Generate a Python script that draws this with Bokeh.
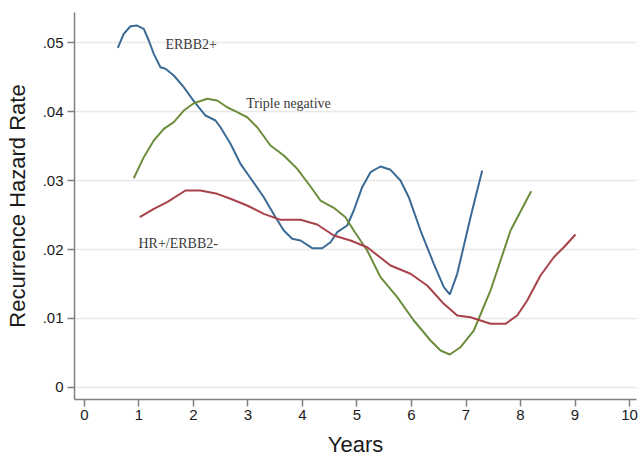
from bokeh.plotting import figure
from bokeh.models import Range1d, FixedTicker, CustomJSTickFormatter, Label
from bokeh.embed import file_html
from bokeh.resources import INLINE

# ERBB2+ (blue)
erbb2_x = [0.611, 0.721, 0.844, 0.967, 1.088, 1.180, 1.272, 1.394, 1.486, 1.639, 1.822, 2.006,
           2.220, 2.404, 2.495, 2.679, 2.862, 3.077, 3.290, 3.505, 3.657, 3.811, 3.963, 4.178,
           4.362, 4.514, 4.637, 4.820, 4.941, 5.095, 5.248, 5.431, 5.615, 5.798, 5.950, 6.165,
           6.409, 6.593, 6.703, 6.839, 7.083, 7.297]
erbb2_y = [0.04923, 0.05126, 0.05236, 0.05246, 0.05199, 0.05029, 0.04836, 0.04642, 0.04619,
           0.04522, 0.04352, 0.04150, 0.03942, 0.03870, 0.03772, 0.03532, 0.03242, 0.03000,
           0.02758, 0.02468, 0.02275, 0.02155, 0.02130, 0.02019, 0.02019, 0.02106, 0.02251,
           0.02348, 0.02565, 0.02903, 0.03120, 0.03203, 0.03155, 0.03000, 0.02758, 0.02275,
           0.01793, 0.01454, 0.01348, 0.01648, 0.02468, 0.03145]

# Triple negative (green)
tn_x = [0.905, 1.088, 1.272, 1.455, 1.639, 1.822, 2.006, 2.251, 2.435, 2.618, 2.802, 2.985,
        3.169, 3.413, 3.657, 3.903, 4.147, 4.330, 4.574, 4.789, 4.941, 5.187, 5.431, 5.738,
        6.042, 6.349, 6.532, 6.703, 6.899, 7.143, 7.450, 7.817, 8.196]
tn_y = [0.03033, 0.03338, 0.03580, 0.03749, 0.03845, 0.04014, 0.04120, 0.04184, 0.04159,
        0.04062, 0.03990, 0.03917, 0.03772, 0.03507, 0.03362, 0.03170, 0.02913, 0.02710,
        0.02604, 0.02468, 0.02275, 0.01986, 0.01599, 0.01309, 0.00971, 0.00681, 0.00536,
        0.00478, 0.00584, 0.00826, 0.01406, 0.02275, 0.02845]

# HR+/ERBB2- (red)
hr_x = [1.015, 1.272, 1.517, 1.853, 2.128, 2.435, 2.679, 2.985, 3.290, 3.596, 3.963, 4.270,
        4.574, 4.881, 5.187, 5.615, 5.982, 6.288, 6.593, 6.839, 7.083, 7.450, 7.725, 7.939,
        8.123, 8.367, 8.611, 8.795, 9.009]
hr_y = [0.02468, 0.02590, 0.02686, 0.02855, 0.02855, 0.02807, 0.02735, 0.02638, 0.02517,
        0.02430, 0.02430, 0.02362, 0.02203, 0.02130, 0.02033, 0.01768, 0.01648, 0.01478,
        0.01213, 0.01043, 0.01019, 0.00923, 0.00923, 0.01043, 0.01261, 0.01623, 0.01888,
        0.02033, 0.02217]

x_ticks = [0, 1, 2, 3, 4, 5, 6, 7, 8, 9, 10]
y_ticks = [0, 0.01, 0.02, 0.03, 0.04, 0.05]
y_tick_labels = ["0", ".01", ".02", ".03", ".04", ".05"]

series_names = ["ERBB2+", "Triple negative", "HR+/ERBB2-"]

p = figure(width=639, height=461, output_backend="svg", toolbar_location=None,
           x_range=Range1d(-0.183, 10.128), y_range=Range1d(-0.00174, 0.05435),
           min_border_left=74, min_border_right=3, min_border_top=12, min_border_bottom=62)
p.outline_line_color = None
p.background_fill_color = "white"
p.border_fill_color = "white"

p.line(erbb2_x, erbb2_y, line_width=2, line_color="#3b6a95")
p.line(tn_x, tn_y, line_width=2, line_color="#6c8d3c")
p.line(hr_x, hr_y, line_width=2, line_color="#a8414a")

label_font = "Liberation Serif"
p.add_layout(Label(x=1.486, y=0.04967, text=series_names[0], text_font=label_font,
                   text_font_size="14px", text_color="#3a3a3a", text_baseline="alphabetic"))
p.add_layout(Label(x=2.967, y=0.0412, text=series_names[1], text_font=label_font,
                   text_font_size="14px", text_color="#3a3a3a", text_baseline="alphabetic"))
p.add_layout(Label(x=0.991, y=0.02091, text=series_names[2], text_font=label_font,
                   text_font_size="14px", text_color="#3a3a3a", text_baseline="alphabetic"))

p.xgrid.grid_line_color = None
p.ygrid.grid_line_color = "#e8e8e8"
p.ygrid.grid_line_width = 1.5

p.xaxis.ticker = FixedTicker(ticks=x_ticks)
p.yaxis.ticker = FixedTicker(ticks=y_ticks)
p.yaxis.formatter = CustomJSTickFormatter(args=dict(vals=y_ticks, labels=y_tick_labels), code="""
const i = vals.findIndex(v => Math.abs(v - tick) < 1e-9);
return i >= 0 ? labels[i] : "";
""")

for ax in (p.xaxis, p.yaxis):
    ax.axis_line_color = "#808080"
    ax.axis_line_width = 1.5
    ax.major_tick_line_color = "#808080"
    ax.major_tick_line_width = 1.5
    ax.major_tick_out = 7
    ax.major_tick_in = 0
    ax.minor_tick_line_color = None
    ax.major_label_text_font = "Liberation Sans"
    ax.major_label_text_font_size = "15px"
    ax.major_label_text_color = "#1a1a1a"
    ax.axis_label_text_font = "Liberation Sans"
    ax.axis_label_text_font_size = "22px"
    ax.axis_label_text_font_style = "normal"
    ax.axis_label_text_color = "#1a1a1a"

p.xaxis.axis_label = "Years"
p.yaxis.axis_label = "Recurrence Hazard Rate"
p.xaxis.major_label_standoff = 3
p.yaxis.major_label_standoff = 4
p.xaxis.axis_label_standoff = 9
p.yaxis.axis_label_standoff = 10

open("out.html", "w").write(file_html(p, INLINE))
